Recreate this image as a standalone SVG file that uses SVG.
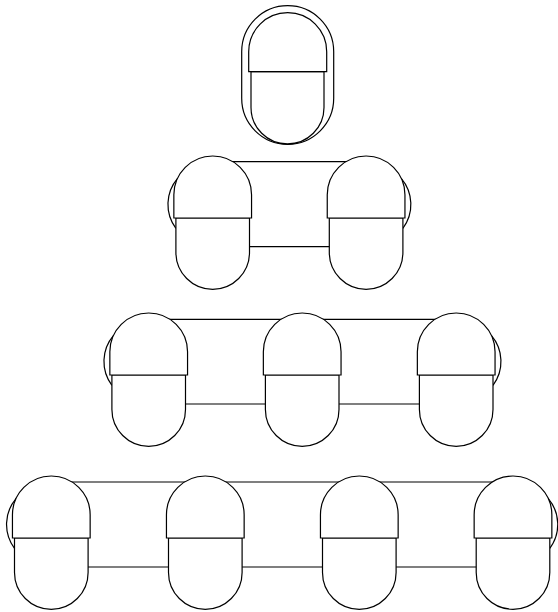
<svg xmlns="http://www.w3.org/2000/svg" xmlns:xlink="http://www.w3.org/1999/xlink" width="558" height="612" viewBox="0 0 558 612">
<style>
.s{fill:#fff;stroke:#000;stroke-width:1.2}
.a{fill:none;stroke:#000;stroke-width:1.2}
.c{stroke:#000;stroke-width:1.2;fill:none}
</style>
<defs>
<g id="seat">
<path class="s" d="M-36.8,62 V96.5 A36.8 36.8 0 0 0 36.8,96.5 V62 Z"/>
<path class="s" d="M-38.85,62 V38.85 A38.85 38.85 0 0 1 38.85,38.85 V62 Z"/>
</g>
<path id="arcL" class="a" d="M-35.1,22.3 A40 40 0 0 0 -36.8,72.3"/>
<path id="arcR" class="a" d="M35.1,22.3 A40 40 0 0 1 36.8,72.3"/>
</defs>
<rect width="558" height="612" fill="#fff"/>
<g id="connectors">
<line class="c" x1="212.7" y1="161.7" x2="366.1" y2="161.7"/>
<line class="c" x1="212.7" y1="246.7" x2="366.1" y2="246.7"/>
<line class="c" x1="148.7" y1="319.3" x2="456.2" y2="319.3"/>
<line class="c" x1="148.7" y1="404" x2="456.2" y2="404"/>
<line class="c" x1="51.3" y1="482" x2="513" y2="482"/>
<line class="c" x1="51.3" y1="567" x2="513" y2="567"/>
</g>
<g id="node-top">
<rect class="s" x="241.7" y="5.7" width="92" height="138.6" rx="46" ry="46"/>
<path class="s" d="M251,71.7 V107.5 A36.5 36.5 0 0 0 324,107.5 V71.7 Z"/>
<path class="s" d="M248.7,71.7 V51.7 A39 39 0 0 1 326.7,51.7 V71.7 Z"/>
</g>
<g id="node-r2-1" transform="translate(212.7,156)"><use xlink:href="#arcL"/><use xlink:href="#seat"/></g>
<g id="node-r2-2" transform="translate(366.1,156)"><use xlink:href="#arcR"/><use xlink:href="#seat"/></g>
<g id="node-r3-1" transform="translate(148.7,313)"><use xlink:href="#arcL"/><use xlink:href="#seat"/></g>
<g id="node-r3-2" transform="translate(302.2,313)"><use xlink:href="#seat"/></g>
<g id="node-r3-3" transform="translate(456.2,313)"><use xlink:href="#arcR"/><use xlink:href="#seat"/></g>
<g id="node-r4-1" transform="translate(51.3,476)"><use xlink:href="#arcL"/><use xlink:href="#seat"/></g>
<g id="node-r4-2" transform="translate(205.3,476)"><use xlink:href="#seat"/></g>
<g id="node-r4-3" transform="translate(359.3,476)"><use xlink:href="#seat"/></g>
<g id="node-r4-4" transform="translate(513,476)"><use xlink:href="#arcR"/><use xlink:href="#seat"/></g>
</svg>
